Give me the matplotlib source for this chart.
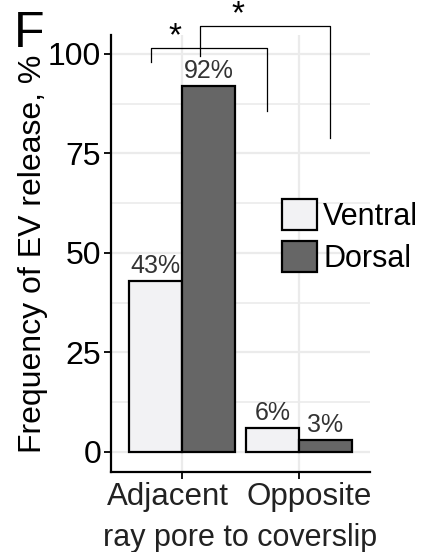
import matplotlib.pyplot as plt
import matplotlib.transforms as mtransforms
import numpy as np

plt.rcParams['font.family'] = ['Liberation Sans', 'DejaVu Sans']

# data
categories = ['Adjacent', 'Opposite']
ventral = [43, 6]
dorsal = [92, 3]
ventral_labels = ['43%', '6%']
dorsal_labels = ['92%', '3%']

c_ventral = '#f2f2f4'
c_dorsal = '#666666'

fig = plt.figure(figsize=(4.24, 5.52), dpi=100)
ax = fig.add_axes([111/424, 1 - 472/552, (370 - 111)/424, (472 - 35)/552])

x = np.arange(1, len(categories) + 1)
w = 0.45

ax.bar(x - w/2, ventral, w, color=c_ventral, edgecolor='black', linewidth=1.6, zorder=3, label='Ventral')
ax.bar(x + w/2, dorsal, w, color=c_dorsal, edgecolor='black', linewidth=1.6, zorder=3, label='Dorsal')

for xi, v, lab in zip(x - w/2, ventral, ventral_labels):
    ax.text(xi, v + 0.8, lab, ha='center', va='bottom', fontsize=18, color='#333333')
for xi, v, lab in zip(x + w/2, dorsal, dorsal_labels):
    ax.text(xi, v + 0.8, lab, ha='center', va='bottom', fontsize=18, color='#333333')

ax.set_xlim(0.393, 2.607)
ax.set_ylim(-5.03, 104.77)

# grid
ax.set_yticks([0, 25, 50, 75, 100])
ax.set_yticks([12.5, 37.5, 62.5, 87.5], minor=True)
ax.set_xticks(x)
ax.set_xticklabels(categories, color='#222222')
ax.grid(True, which='major', color='#ebebeb', linewidth=1.6, zorder=0)
ax.grid(True, which='minor', axis='y', color='#ebebeb', linewidth=1.2, zorder=0)
ax.tick_params(which='minor', length=0)
ax.tick_params(which='major', length=5, width=1.3, pad=2)
ax.tick_params(axis='y', labelsize=23)
ax.tick_params(axis='x', labelsize=22.5)

# the category labels sit a little off their ticks in the original
for lab, dx in zip(ax.get_xticklabels(), [-14, 10]):
    lab.set_transform(lab.get_transform() + mtransforms.ScaledTranslation(dx/100, 0, fig.dpi_scale_trans))

for s in ['top', 'right']:
    ax.spines[s].set_visible(False)
for s in ['left', 'bottom']:
    ax.spines[s].set_linewidth(1.6)

ax.set_ylabel('Frequency of EV release, %', fontsize=23, labelpad=0)
ax.set_xlabel('ray pore to coverslip', fontsize=22, labelpad=8, color='#222222')

# significance brackets
ax.plot([0.735, 0.735, 1.726, 1.726], [98, 101.5, 101.5, 85.7], color='black', lw=0.9, clip_on=False, zorder=4)
ax.text(0.94, 100.5, '*', ha='center', va='bottom', fontsize=24, clip_on=False)
ax.plot([1.154, 1.154, 2.265, 2.265], [99.5, 107, 107, 78.9], color='black', lw=0.9, clip_on=False, zorder=4)
ax.text(1.48, 106, '*', ha='center', va='bottom', fontsize=24, clip_on=False)

leg = fig.legend(loc='upper left', bbox_to_anchor=(282/424, 1 - 199/552), frameon=False,
                 fontsize=22, handlelength=1.15, handleheight=1.2, labelspacing=0.3,
                 handletextpad=0.2, borderpad=0, borderaxespad=0)

fig.text(14/424, 1 - 11/552, 'F', fontsize=36, ha='left', va='top')

fig.savefig('out.png', dpi=100)
